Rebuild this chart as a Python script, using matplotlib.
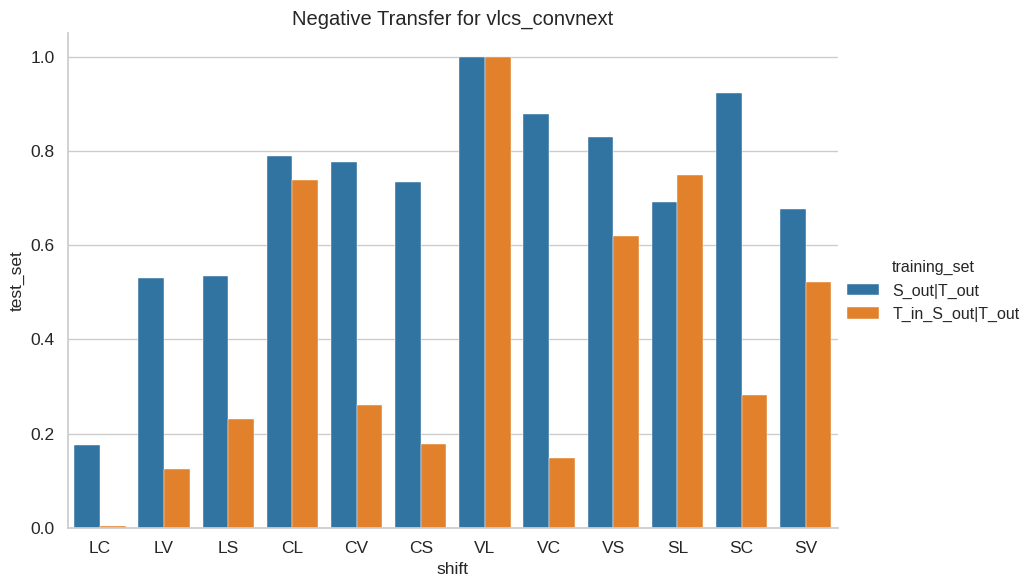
import numpy as np
import pandas as pd
import matplotlib
matplotlib.use("Agg")
import matplotlib.pyplot as plt
import seaborn as sns

# valores
shifts = ["LC", "LV", "LS", "CL", "CV", "CS", "VL", "VC", "VS", "SL", "SC", "SV"]
s_out = [0.175, 0.531, 0.534, 0.789, 0.777, 0.735, 1.0, 0.878, 0.829, 0.692, 0.924, 0.676]
t_in_s_out = [0.005, 0.126, 0.232, 0.738, 0.261, 0.177, 1.0, 0.149, 0.620, 0.748, 0.281, 0.521]
sets = ["S_out|T_out", "T_in_S_out|T_out"]

df = pd.DataFrame({
    "shift": shifts * 2,
    "test_set": s_out + t_in_s_out,
    "training_set": [sets[0]] * len(shifts) + [sets[1]] * len(shifts),
})

sns.set_theme(style="whitegrid")
plt.rcParams["font.family"] = ["Liberation Sans", "DejaVu Sans"]
plt.rcParams.update({"xtick.labelsize": 12.5, "ytick.labelsize": 12.5,
                     "axes.labelsize": 12.5, "axes.titlesize": 14.5,
                     "legend.fontsize": 11.5, "legend.title_fontsize": 11.5})

fig, ax = plt.subplots(figsize=(10.28, 5.82), dpi=100)
fig.subplots_adjust(left=0.066, right=0.815, bottom=0.093, top=0.943)

sns.barplot(data=df, x="shift", y="test_set", hue="training_set", ax=ax,
            palette=["#1f77b4", "#ff7f0e"], saturation=0.75,
            edgecolor="white", linewidth=0.3)
ax.set_ylim(0, 1.05)
ax.set_title("Negative Transfer for vlcs_convnext")
sns.despine(ax=ax)

handles, labels = ax.get_legend_handles_labels()
ax.get_legend().remove()
fig.legend(handles, labels, title="training_set", loc="center left",
           bbox_to_anchor=(0.815, 0.5), frameon=False,
           handletextpad=0.8, borderaxespad=0.2)

fig.savefig("out.png", dpi=100)
